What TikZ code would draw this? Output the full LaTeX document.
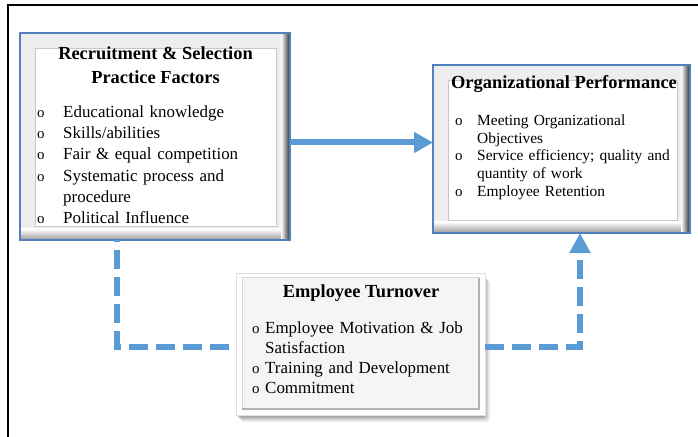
\documentclass[tikz,border=0pt]{standalone}
\usepackage{fontspec}
\setmainfont{Liberation Serif}
\usetikzlibrary{arrows.meta}

\definecolor{linkblue}{RGB}{91,155,213}
\definecolor{frameblue}{RGB}{79,129,189}

% one bullet item, wrapped lines hang under the text
\newcommand{\bulletline}[2]{\par\hangindent=#1\hangafter=1\noindent\makebox[#1][l]{\fontsize{15}{12}\selectfont o}#2}

% bevelled frame round an empty panel node
\newcommand{\bevelframe}[3]{%
    \fill[gray!14] (#1.north west) rectangle (#1.south east);
    \shade[top color=white,bottom color=gray!80] ([yshift=11bp]#1.south west) rectangle (#1.south east);
    \shade[left color=white,right color=black!85] ([xshift=-9bp]#1.north east) rectangle (#1.south east);
    \fill[white] ([shift={(#2,-#2)}]#1.north west) rectangle ([shift={(-#3,#3)}]#1.south east);
    \draw[gray!45,line width=0.8bp] ([shift={(#2,-#2)}]#1.north west) rectangle ([shift={(-#3,#3)}]#1.south east);
    \draw[frameblue,line width=1.5bp] (#1.north west) rectangle (#1.south east);
}

\begin{document}
\begin{tikzpicture}[x=1bp,y=-1bp,
    panel/.style={rectangle,inner sep=0pt,outer sep=0pt},
    headtext/.style={inner sep=0pt,align=center,font=\fontsize{18.5}{24}\selectfont\bfseries},
    listtext/.style={inner sep=0pt,anchor=north west},
    flow/.style={linkblue,line width=6bp,-{Triangle[width=20bp,length=19bp]}},
    dashlink/.style={linkblue,line width=6bp,dash pattern=on 19bp off 8bp}]
    \useasboundingbox (0,0) rectangle (698,437);

    % page frame
    \draw[line width=1.6bp] (8,437) -- (8,5) -- (698,5);

    % Recruitment and selection panel
    \node[panel,minimum width=270bp,minimum height=207bp] (rs) at (155,136.5) {};
    \bevelframe{rs}{15bp}{14bp}
    \node[headtext] (rstitle) at (155.5,65) {Recruitment \& Selection\\Practice Factors};
    \node[listtext,text width=245bp,font=\fontsize{17}{21.3}\selectfont] (rslist) at (37,96) {\raggedright
        \bulletline{26bp}{Educational knowledge}
        \bulletline{26bp}{Skills/abilities}
        \bulletline{26bp}{Fair \& equal competition}
        \bulletline{26bp}{Systematic process and\newline procedure}
        \bulletline{26bp}{Political Influence}
    };

    % Organizational performance panel
    \node[panel,minimum width=257bp,minimum height=168bp] (op) at (561.5,149) {};
    \bevelframe{op}{15bp}{13bp}
    \node[headtext] (optitle) at (564,84) {Organizational Performance};
    \node[listtext,text width=225bp,font=\fontsize{15.5}{17.8}\selectfont] (oplist) at (455,107.5) {\raggedright
        \bulletline{22bp}{Meeting Organizational\newline Objectives}
        \bulletline{22bp}{Service efficiency; quality and\newline quantity of work}
        \bulletline{22bp}{Employee Retention}
    };

    % Employee turnover panel, soft shadow first
    \foreach \s/\o in {7/0.08,5/0.12,3/0.18} {
        \fill[black,opacity=\o,rounded corners=3bp] (236+\s-2,273+\s) rectangle (485+\s-2,415+\s);
    }
    \node[panel,minimum width=249bp,minimum height=142bp] (et) at (360.5,344) {};
    \fill[white] (et.north west) rectangle (et.south east);
    \draw[gray!25,line width=0.8bp] (et.north west) rectangle (et.south east);
    \fill[gray!8] ([shift={(6bp,-5bp)}]et.north west) rectangle ([shift={(-6bp,5bp)}]et.south east);
    \draw[gray!30,line width=1bp] ([shift={(6bp,5bp)}]et.south west) -- ([shift={(6bp,-5bp)}]et.north west) -- ([shift={(-6bp,-5bp)}]et.north east);
    \draw[gray!60,line width=2bp] ([shift={(6bp,6bp)}]et.south west) -- ([shift={(-6bp,6bp)}]et.south east) -- ([shift={(-6bp,-5bp)}]et.north east);
    \node[headtext] (ettitle) at (361,293) {Employee Turnover};
    \node[listtext,text width=235bp,font=\fontsize{17}{20.4}\selectfont] (etlist) at (252,312.5) {\raggedright
        \bulletline{13bp}{Employee Motivation \& Job\newline Satisfaction}
        \bulletline{13bp}{Training and Development}
        \bulletline{13bp}{Commitment}
    };

    % connectors
    \coordinate (arrowrow) at (0,142.5);
    \coordinate (elbowL) at (117,346.5);
    \coordinate (elbowR) at (580,346.5);
    \draw[flow] (rs.east |- arrowrow) -- (op.west |- arrowrow);
    \draw[dashlink,dash phase=17bp] (elbowL |- rs.south) -- (elbowL) -- (et.west |- elbowL);
    \draw[dashlink,-{Triangle[width=20bp,length=20bp]}] (et.east |- elbowR) -- (elbowR) -- (elbowR |- op.south);
\end{tikzpicture}
\end{document}
